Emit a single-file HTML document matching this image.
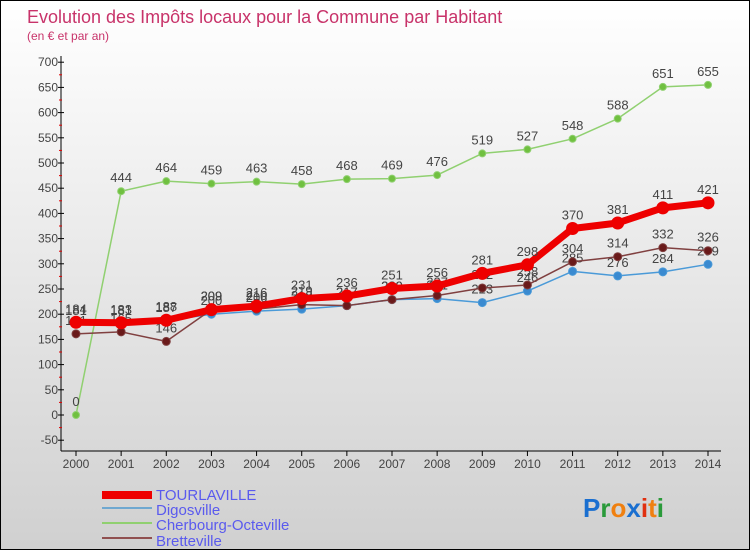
<!DOCTYPE html>
<html><head><meta charset="utf-8">
<style>
body{margin:0;width:750px;height:550px;overflow:hidden;font-family:"Liberation Sans",sans-serif;}
#wrap{position:relative;width:748px;height:548px;border:1px solid #000;background:linear-gradient(#ffffff,#d0d0d0);}
svg text{font-family:"Liberation Sans",sans-serif;}
</style></head><body>
<div id="wrap">
<svg id="chart" width="748" height="548" xmlns="http://www.w3.org/2000/svg">
<text x="26" y="22" font-size="18" fill="#c8336a">Evolution des Impôts locaux pour la Commune par Habitant</text>
<text x="26" y="39" font-size="12" fill="#c8336a">(en € et par an)</text>
<g id="axes"></g><g id="series"></g>
<g>
<rect x="101" y="490" width="50" height="8" fill="#ee0000"/>
<line x1="101" y1="507" x2="151" y2="507" stroke="#6fa8d0" stroke-width="2"/>
<line x1="101" y1="522" x2="151" y2="522" stroke="#90d070" stroke-width="2"/>
<line x1="101" y1="537" x2="151" y2="537" stroke="#905050" stroke-width="2"/>
<g font-size="15" fill="#5a5aee">
<text x="155" y="499">TOURLAVILLE</text>
<text x="155" y="514">Digosville</text>
<text x="155" y="529">Cherbourg-Octeville</text>
<text x="155" y="545">Bretteville</text>
</g></g>
<text x="582" y="516" font-size="26" font-weight="bold"><tspan fill="#1a6fd0">P</tspan><tspan fill="#2a9a3a">r</tspan><tspan fill="#f08010">o</tspan><tspan fill="#1a6fd0">x</tspan><tspan fill="#e03010">i</tspan><tspan fill="#f08010">t</tspan><tspan fill="#2a9a3a">i</tspan></text>
</svg></div>
<script>
const years=[2000,2001,2002,2003,2004,2005,2006,2007,2008,2009,2010,2011,2012,2013,2014];
const tourlaville=[184,183,188,209,216,231,236,251,256,281,298,370,381,411,421];
const digosville=[181,181,187,200,206,210,217,229,231,223,246,285,276,284,299];
const cherbourg=[0,444,464,459,463,458,468,469,476,519,527,548,588,651,655];
const bretteville=[161,165,146,209,210,219,217,229,237,252,258,304,314,332,326];
const yTicks=[-50,0,50,100,150,200,250,300,350,400,450,500,550,600,650,700];
const NS="http://www.w3.org/2000/svg";
function X(i){return 75+i*(707-75)/14;}
function Y(v){return 414-v*0.504;}
function mk(t,a,p){const e=document.createElementNS(NS,t);for(const k in a)e.setAttribute(k,a[k]);p.appendChild(e);return e;}
const ax=document.getElementById('axes');
const yl=mk('line',{x1:60,y1:55,x2:60,y2:450,stroke:'#000'},ax);


const xl=mk('line',{x1:60,y1:450,x2:720,y2:450,stroke:'#000'},ax);


yTicks.forEach(v=>{
 mk('line',{x1:57,y1:Y(v),x2:63,y2:Y(v),stroke:'#000'},ax);
 if(v<700) mk('line',{x1:58,y1:Y(v+25),x2:61,y2:Y(v+25),stroke:'#e00000'},ax);
 const t=mk('text',{x:57,y:Y(v)+4,'font-size':12,fill:'#444','text-anchor':'end'},ax);t.textContent=v;
 
 
});
years.forEach((y,i)=>{
 mk('line',{x1:X(i),y1:450,x2:X(i),y2:455,stroke:'#000'},ax);
 const t=mk('text',{x:X(i),y:467,'font-size':12,fill:'#444','text-anchor':'middle'},ax);t.textContent=y;
 
 
});
const sg=document.getElementById('series');
function draw(vals,name,color,w,r,dot){
 const g=mk('g',{},sg);
 
 
 mk('polyline',{points:vals.map((v,i)=>X(i)+','+Y(v)).join(' '),fill:'none',stroke:color,'stroke-width':w,'stroke-linejoin':'round'},g);
 vals.forEach((v,i)=>{
  const c=mk('circle',{cx:X(i),cy:Y(v),r:r,fill:dot,stroke:color,'stroke-width':1},g);
  
  
  const t=mk('text',{x:X(i),y:Y(v)-9,'font-size':13,fill:'#444','text-anchor':'middle'},g);t.textContent=v;
  
  
 });
}
draw(cherbourg,'cherbourg','#90d070',1.5,3.5,'#70c040');
draw(digosville,'digosville','#4a9ad8',1.5,4,'#3a8ad0');
draw(bretteville,'bretteville','#804040',1.5,4,'#6a1a1a');
draw(tourlaville,'tourlaville','#ee0000',7,6,'#ee0000');
</script>
</body></html>
